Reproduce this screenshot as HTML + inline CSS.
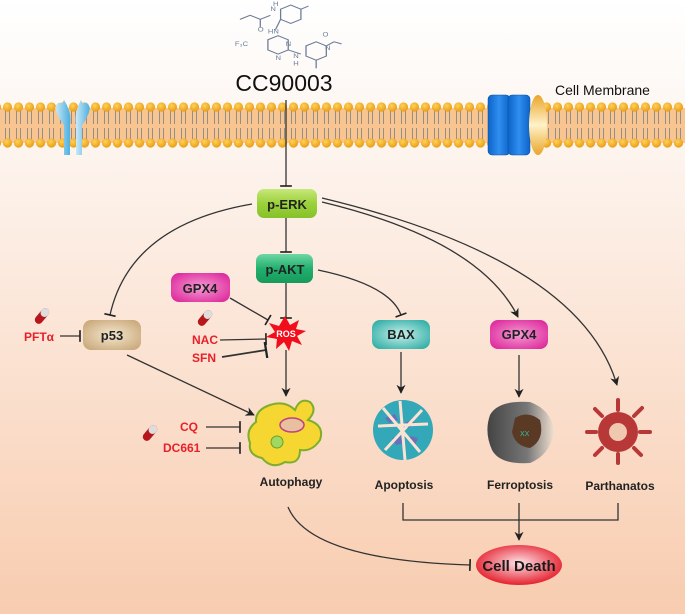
<!DOCTYPE html>
<html><head><meta charset="utf-8"><style>
html,body{margin:0;padding:0;background:#fff}
svg{display:block}
text{font-family:"Liberation Sans",Arial,sans-serif}
</style></head><body>
<svg width="685" height="614" viewBox="0 0 685 614" xmlns="http://www.w3.org/2000/svg">
<defs>
<linearGradient id="bg" x1="0" y1="0" x2="0" y2="1">
<stop offset="0" stop-color="#ffffff"/><stop offset="0.25" stop-color="#fdf4ee"/><stop offset="1" stop-color="#f8ccaf"/>
</linearGradient>
<radialGradient id="head" cx="0.4" cy="0.35" r="0.7"><stop offset="0" stop-color="#ffd15a"/><stop offset="1" stop-color="#e79a10"/></radialGradient>
<pattern id="lip" x="2" y="0" width="11" height="614" patternUnits="userSpaceOnUse">
<path d="M3.5 110 v14 M7.5 110 v14 M3.5 128 v12 M7.5 128 v12" stroke="#888" stroke-width="0.9" fill="none"/>
<circle cx="5.5" cy="107" r="4.6" fill="url(#head)"/>
<circle cx="5.5" cy="143" r="4.6" fill="url(#head)"/>
</pattern>
<linearGradient id="gErk" x1="0" y1="0" x2="0" y2="1"><stop offset="0" stop-color="#c6e87a"/><stop offset="0.5" stop-color="#9bd13a"/><stop offset="1" stop-color="#86c22a"/></linearGradient>
<linearGradient id="gAkt" x1="0" y1="0" x2="0" y2="1"><stop offset="0" stop-color="#6fd6a4"/><stop offset="0.5" stop-color="#22b06e"/><stop offset="1" stop-color="#169a5c"/></linearGradient>
<radialGradient id="gGpx" cx="0.5" cy="0.5" r="0.7"><stop offset="0" stop-color="#f39bd3"/><stop offset="1" stop-color="#dc1d96"/></radialGradient>
<radialGradient id="gP53" cx="0.5" cy="0.5" r="0.7"><stop offset="0" stop-color="#f4e8cf"/><stop offset="1" stop-color="#c5a170"/></radialGradient>
<radialGradient id="gBax" cx="0.5" cy="0.5" r="0.7"><stop offset="0" stop-color="#c8f0ea"/><stop offset="1" stop-color="#1fa79f"/></radialGradient>
<radialGradient id="gDeath" cx="0.5" cy="0.45" r="0.6"><stop offset="0" stop-color="#fde3e8"/><stop offset="1" stop-color="#e3101e"/></radialGradient>
<linearGradient id="gBlue" x1="0" y1="0" x2="1" y2="0"><stop offset="0" stop-color="#0d63c8"/><stop offset="0.5" stop-color="#2f8ff0"/><stop offset="1" stop-color="#0d63c8"/></linearGradient>
<linearGradient id="gOr" x1="0" y1="0" x2="0" y2="1"><stop offset="0" stop-color="#eaa52a"/><stop offset="0.5" stop-color="#fff2c8"/><stop offset="1" stop-color="#eaa52a"/></linearGradient>
<linearGradient id="gRec" x1="0" y1="0" x2="1" y2="0"><stop offset="0" stop-color="#cdeaf8"/><stop offset="1" stop-color="#4aaee0"/></linearGradient>
<linearGradient id="gFer" x1="0" y1="0" x2="1" y2="0"><stop offset="0" stop-color="#444"/><stop offset="0.6" stop-color="#777"/><stop offset="1" stop-color="#f0e0d0"/></linearGradient>
<marker id="ar" viewBox="0 0 10 10" refX="9" refY="5" markerWidth="7" markerHeight="7" orient="auto-start-reverse"><path d="M0 0 L10 5 L0 10 L3 5 z" fill="#222"/></marker>
<marker id="bar" viewBox="0 0 10 10" refX="5" refY="5" markerWidth="9" markerHeight="9" orient="auto"><path d="M5 0 V10" stroke="#222" stroke-width="1.4"/></marker>
</defs>
<rect width="685" height="614" fill="url(#bg)"/>
<rect x="0" y="108" width="685" height="35" fill="#f8c48f"/>
<rect x="0" y="0" width="685" height="614" fill="url(#lip)"/>
<path d="M55 108 Q58 100 62 104 L64 100 Q72 112 70 125 L70 155 L64 155 L64 125 Q58 118 55 108z" fill="url(#gRec)"/>
<path d="M90 108 Q87 100 83 104 L81 100 Q74 112 76 125 L76 155 L82 155 L82 125 Q88 118 90 108z" fill="url(#gRec)"/>
<rect x="488" y="95" width="22" height="60" rx="4" fill="url(#gBlue)" stroke="#0a4ea0" stroke-width="0.5"/>
<rect x="508" y="95" width="22" height="60" rx="4" fill="url(#gBlue)" stroke="#0a4ea0" stroke-width="0.5"/>
<ellipse cx="538" cy="125" rx="9" ry="30" fill="url(#gOr)"/>
<text x="555" y="95" font-size="14" fill="#111">Cell Membrane</text>
<g transform="translate(-75,1) scale(1.27,1.02)">
<g stroke="#6a7c96" stroke-width="1" fill="none">
<path d="M248 18 L256 14 L264 18 L272 14"/><path d="M264 18 V26"/>
<path d="M280 8 L288 4 L296 8 V18 L288 22 L280 18z"/><path d="M296 8 L302 5"/>
<path d="M280 18 L276 28"/>
<path d="M270 38 L278 34 L286 38 V48 L278 52 L270 48z"/>
<path d="M286 48 L296 52"/>
<path d="M300 44 L308 40 L316 44 V54 L308 58 L300 54z"/><path d="M316 44 L322 40 L328 42"/><path d="M308 58 V66"/>
</g>
<g font-size="6" fill="#6a7c96"><text x="274" y="5">H</text><text x="272" y="10">N</text><text x="262" y="30">O</text><text x="270" y="32">HN</text><text x="244" y="44">F₃C</text><text x="284" y="44">N</text><text x="276" y="58">N</text><text x="290" y="56">N</text><text x="290" y="63">H</text><text x="315" y="48">N</text><text x="313" y="35">O</text></g>
</g>
<text x="284" y="91" font-size="23" text-anchor="middle" fill="#111">CC90003</text>
<g stroke="#333" stroke-width="1.3" fill="none">
<line x1="286" y1="100" x2="286" y2="186" marker-end="url(#bar)"/>
<line x1="286" y1="218" x2="286" y2="252" marker-end="url(#bar)"/>
<path d="M252 204 Q130 225 110 315" marker-end="url(#bar)"/>
<path d="M322 202 Q480 240 518 317" marker-end="url(#ar)"/>
<path d="M322 198 Q580 260 617 385" marker-end="url(#ar)"/>
<path d="M318 270 Q390 285 401 315" marker-end="url(#bar)"/>
<line x1="286" y1="283" x2="286" y2="318" marker-end="url(#bar)"/>
<line x1="230" y1="298" x2="268" y2="320" marker-end="url(#bar)"/>
<line x1="220" y1="340" x2="266" y2="339" marker-end="url(#bar)"/>
<line x1="222" y1="357" x2="266" y2="350" stroke-width="1.8" marker-end="url(#bar)"/>
<line x1="286" y1="350" x2="286" y2="396" marker-end="url(#ar)"/>
<line x1="60" y1="336" x2="80" y2="336" marker-end="url(#bar)"/>
<line x1="127" y1="355" x2="254" y2="415" marker-end="url(#ar)"/>
<line x1="206" y1="427" x2="240" y2="427" marker-end="url(#bar)"/>
<line x1="206" y1="448" x2="240" y2="448" marker-end="url(#bar)"/>
<line x1="401" y1="352" x2="401" y2="393" marker-end="url(#ar)"/>
<line x1="519" y1="355" x2="519" y2="397" marker-end="url(#ar)"/>
<path d="M403 503 V520 H618 V503"/>
<line x1="519" y1="503" x2="519" y2="540" marker-end="url(#ar)"/>
<path d="M288 507 Q310 560 470 565" marker-end="url(#bar)"/>
</g>
<g font-weight="bold" font-size="13" text-anchor="middle" fill="#222">
<rect x="257" y="189" width="60" height="29" rx="7" fill="url(#gErk)"/><text x="287" y="209">p-ERK</text>
<rect x="256" y="254" width="57" height="29" rx="7" fill="url(#gAkt)"/><text x="285" y="274">p-AKT</text>
<rect x="171" y="273" width="59" height="29" rx="8" fill="url(#gGpx)"/><text x="200" y="293">GPX4</text>
<rect x="83" y="320" width="58" height="30" rx="8" fill="url(#gP53)"/><text x="112" y="340">p53</text>
<rect x="372" y="320" width="58" height="29" rx="8" fill="url(#gBax)"/><text x="401" y="339">BAX</text>
<rect x="490" y="320" width="58" height="29" rx="8" fill="url(#gGpx)"/><text x="519" y="339">GPX4</text>
</g>
<polygon points="285,316 290,325 299,320 296,329 306,331 297,336 302,345 292,341 289,351 284,342 276,349 277,339 266,337 275,332 269,323 279,326" fill="#f20d1a"/>
<text x="286" y="337" font-size="9" font-weight="bold" fill="#fff" text-anchor="middle">ROS</text>
<g font-weight="bold" font-size="12" fill="#e8202a">
<text x="24" y="341">PFTα</text>
<text x="192" y="344">NAC</text>
<text x="192" y="362">SFN</text>
<text x="180" y="431">CQ</text>
<text x="163" y="452">DC661</text>
</g>
<g>
<g transform="translate(42,316) rotate(40)"><rect x="-4" y="-9" width="8" height="18" rx="4" fill="#b5171d"/><rect x="-4" y="-9" width="8" height="9" rx="4" fill="#ddd"/></g>
<g transform="translate(205,318) rotate(40)"><rect x="-4" y="-9" width="8" height="18" rx="4" fill="#b5171d"/><rect x="-4" y="-9" width="8" height="9" rx="4" fill="#ddd"/></g>
<g transform="translate(150,433) rotate(40)"><rect x="-4" y="-9" width="8" height="18" rx="4" fill="#b5171d"/><rect x="-4" y="-9" width="8" height="9" rx="4" fill="#ddd"/></g>
</g>
<path d="M270 405 Q285 400 295 410 Q300 397 310 402 Q318 410 308 420 Q325 425 320 440 Q312 452 300 450 Q300 465 285 462 Q272 470 262 458 Q248 455 250 443 Q245 430 256 422 Q255 410 270 405z" fill="#f6d630" stroke="#7fae2e" stroke-width="2"/>
<ellipse cx="292" cy="425" rx="12" ry="7" fill="#e8c0a0" stroke="#c04080" stroke-width="1.5"/>
<circle cx="277" cy="442" r="6" fill="#a0d860" stroke="#6aa030"/>
<g>
<circle cx="403" cy="430" r="30" fill="#33a8b8"/>
<path d="M385 418 l10 -4 l3 6 l-9 3z M400 425 l12 -5 l4 4 l-12 6z M392 438 l8 -3 l4 8 l-8 2z M410 436 l8 2 l-3 7 l-6 -3z" fill="#6a70b8"/>
<path d="M378 426 L428 424 M400 401 L405 460 M385 450 L422 410 M383 408 L420 452" stroke="#fbe3d3" stroke-width="3" fill="none"/>
</g>
<path d="M490 415 Q498 400 530 402 Q552 410 554 432 Q550 455 530 463 Q500 465 492 450 Q484 432 490 415z" fill="url(#gFer)"/>
<path d="M515 418 Q528 410 540 420 Q545 440 530 448 Q515 446 512 432z" fill="#5a3a24"/>
<text x="520" y="436" font-size="7" fill="#30c0a0">XX</text>
<g transform="translate(618,432)">
<circle r="20" fill="#b83838"/>
<g stroke="#b83838" stroke-width="4" stroke-linecap="round">
<line x1="0" y1="-22" x2="0" y2="-32"/><line x1="16" y1="-16" x2="24" y2="-24"/><line x1="22" y1="0" x2="32" y2="0"/><line x1="16" y1="16" x2="23" y2="23"/><line x1="0" y1="22" x2="0" y2="31"/><line x1="-16" y1="16" x2="-23" y2="23"/><line x1="-22" y1="0" x2="-31" y2="0"/><line x1="-16" y1="-16" x2="-23" y2="-23"/>
</g>
<circle r="9" fill="#f0c8b0"/>
</g>
<g font-weight="bold" font-size="12" fill="#222" text-anchor="middle">
<text x="291" y="486">Autophagy</text>
<text x="404" y="489">Apoptosis</text>
<text x="520" y="489">Ferroptosis</text>
<text x="620" y="490">Parthanatos</text>
</g>
<ellipse cx="519" cy="565" rx="43" ry="20" fill="url(#gDeath)"/>
<text x="519" y="571" font-size="15" font-weight="bold" fill="#1a1a1a" text-anchor="middle">Cell Death</text>
</svg>
</body></html>
